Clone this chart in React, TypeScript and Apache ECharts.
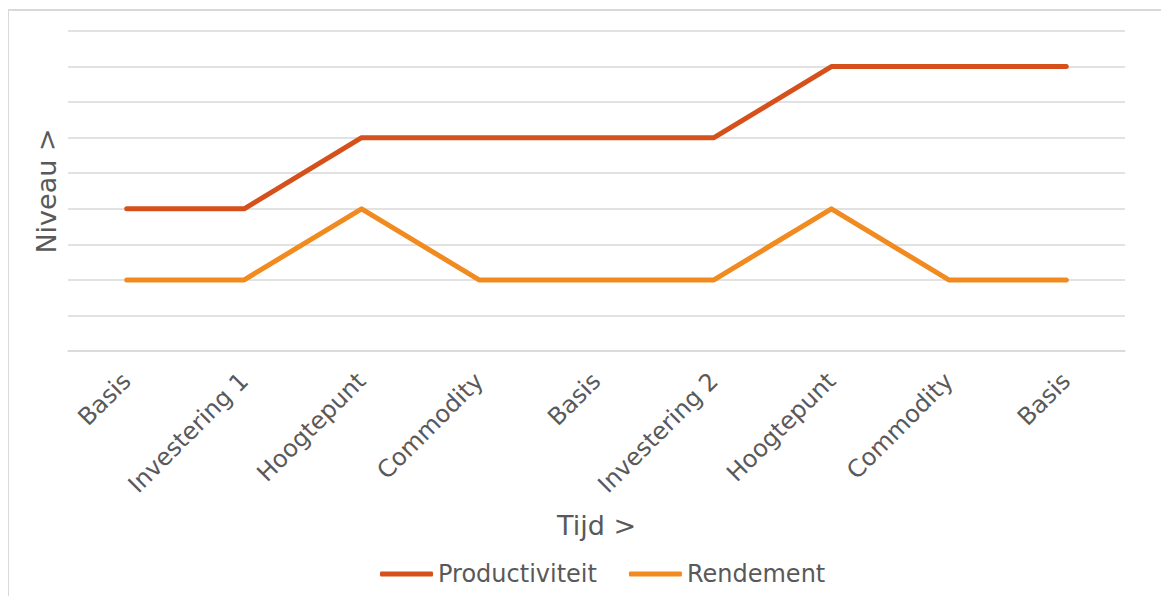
import React, { useEffect, useRef } from "react";
import * as echarts from "echarts";

const categories = [
  "Basis",
  "Investering 1",
  "Hoogtepunt",
  "Commodity",
  "Basis",
  "Investering 2",
  "Hoogtepunt",
  "Commodity",
  "Basis",
];
const productiviteit = [4, 4, 6, 6, 6, 6, 8, 8, 8];
const rendement = [2, 2, 4, 2, 2, 2, 4, 2, 2];
const seriesNames = ["Productiviteit", "Rendement"];
const xTitle = "Tijd >";
const yTitle = "Niveau >";

const FONT = "'DejaVu Sans', Verdana, sans-serif";
const TEXT = "#595959";

export default function App() {
  const ref = useRef<HTMLDivElement>(null);
  useEffect(() => {
    if (!ref.current) return;
    const chart = echarts.init(ref.current, undefined, { renderer: "svg" });
    chart.setOption({
      animation: false,
      textStyle: { fontFamily: FONT, color: TEXT },
      grid: { left: 68, right: 36, top: 31, bottom: 245 },
      xAxis: {
        type: "category",
        data: categories,
        boundaryGap: true,
        axisLine: { show: true, lineStyle: { color: "#d9d9d9", width: 1.5 } },
        axisTick: { show: false },
        axisLabel: {
          rotate: 45,
          interval: 0,
          margin: 26,
          fontSize: 24,
          color: TEXT,
          fontFamily: FONT,
        },
        name: xTitle,
        nameLocation: "middle",
        nameGap: 161,
        nameTextStyle: { fontSize: 27, color: TEXT, fontFamily: FONT },
      },
      yAxis: {
        type: "value",
        min: 0,
        max: 9,
        interval: 1,
        axisLabel: { show: false },
        axisLine: { show: false },
        axisTick: { show: false },
        splitLine: { lineStyle: { color: "#d9d9d9", width: 1.5 } },
        name: yTitle,
        nameLocation: "middle",
        nameRotate: 90,
        nameGap: 8,
        nameTextStyle: { fontSize: 27, color: TEXT, fontFamily: FONT },
      },
      legend: {
        bottom: 5,
        left: 375,
        itemWidth: 53,
        itemHeight: 5,
        itemGap: 32,
        icon: "roundRect",
        textStyle: { fontSize: 24, color: TEXT, fontFamily: FONT },
        data: seriesNames,
      },
      series: [
        {
          name: seriesNames[0],
          type: "line",
          data: productiviteit,
          showSymbol: false,
          symbol: "none",
          lineStyle: { color: "#D5501A", width: 5, cap: "round", join: "round" },
          itemStyle: { color: "#D5501A" },
        },
        {
          name: seriesNames[1],
          type: "line",
          data: rendement,
          showSymbol: false,
          symbol: "none",
          lineStyle: { color: "#F18A1F", width: 5, cap: "round", join: "round" },
          itemStyle: { color: "#F18A1F" },
        },
      ],
    });
    return () => chart.dispose();
  }, []);
  return (
    <>
      <div
        style={{
          position: "absolute",
          left: 8,
          top: 9,
          width: 1153,
          height: 587,
          borderLeft: "1px solid #d9d9d9",
          borderTop: "2px solid #d9d9d9",
          boxSizing: "border-box",
        }}
      />
      <div
        ref={ref}
        style={{ position: "absolute", left: 0, top: 0, width: 1161, height: 596 }}
      />
    </>
  );
}
